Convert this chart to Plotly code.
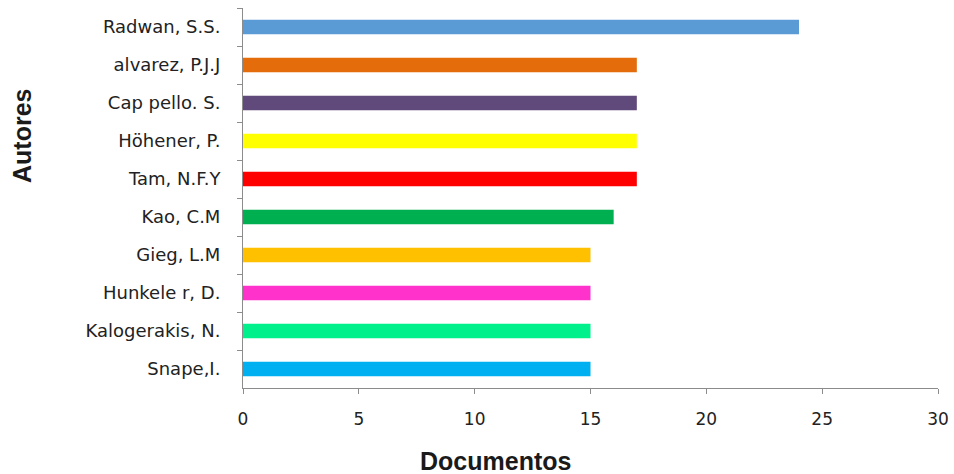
import plotly.graph_objects as go

autores = ["Radwan, S.S.", "alvarez, P.J.J", "Cap pello. S.", "Höhener, P.", "Tam, N.F.Y",
           "Kao, C.M", "Gieg, L.M", "Hunkele r, D.", "Kalogerakis, N.", "Snape,I."]
documentos = [24, 17, 17, 17, 17, 16, 15, 15, 15, 15]
colores = ["#5B9BD5", "#E46C0A", "#604A7B", "#FFFF00", "#FF0000",
           "#00B050", "#FFC000", "#FF33CC", "#00F08C", "#00B0F0"]

W, H = 954, 474
L, R, T, B = 243, 16, 8, 86
pw, ph = W - L - R, H - T - B


def paper_xy(fx, fy):
    return (fx - L) / pw, (H - B - fy) / ph


fig = go.Figure(go.Bar(
    x=documentos, y=autores, orientation="h",
    marker=dict(color=colores, line=dict(width=0)),
))

dx, dy = paper_xy(495, 461)
ax_, ay_ = paper_xy(22, 136)

fig.update_layout(
    width=W, height=H,
    margin=dict(l=L, r=R, t=T, b=B, autoexpand=False),
    paper_bgcolor="white", plot_bgcolor="white",
    bargap=0.62,
    showlegend=False,
    font=dict(family="DejaVu Sans", size=18, color="#222222"),
    annotations=[
        dict(text="<b>Documentos</b>", x=dx, y=dy, xref="paper", yref="paper",
             xanchor="center", yanchor="middle", showarrow=False,
             font=dict(family="Liberation Sans", size=25, color="#1a1a1a")),
        dict(text="<b>Autores</b>", x=ax_, y=ay_, xref="paper", yref="paper", textangle=-90,
             xanchor="center", yanchor="middle", showarrow=False,
             font=dict(family="Liberation Sans", size=25, color="#1a1a1a")),
    ],
)

fig.update_xaxes(
    range=[0, 30], dtick=5, tick0=0,
    showgrid=False, zeroline=False, automargin=False,
    showline=True, linecolor="#8C8C8C", linewidth=1,
    ticks="outside", ticklen=5, tickcolor="#8C8C8C",
    ticklabelstandoff=11,
    tickfont=dict(family="DejaVu Sans", size=17, color="#222222"),
)
fig.update_yaxes(
    autorange="reversed",
    showgrid=False, zeroline=False, automargin=False,
    showline=True, linecolor="#8C8C8C", linewidth=1,
    ticks="outside", ticklen=5, tickcolor="#8C8C8C", tickson="boundaries",
    ticklabelstandoff=18,
    tickfont=dict(family="DejaVu Sans", size=18, color="#222222"),
)

fig.write_html(
    "out.html",
    config={"displayModeBar": False},
    post_script="document.body.style.margin='0';document.documentElement.style.overflow='hidden';",
)
